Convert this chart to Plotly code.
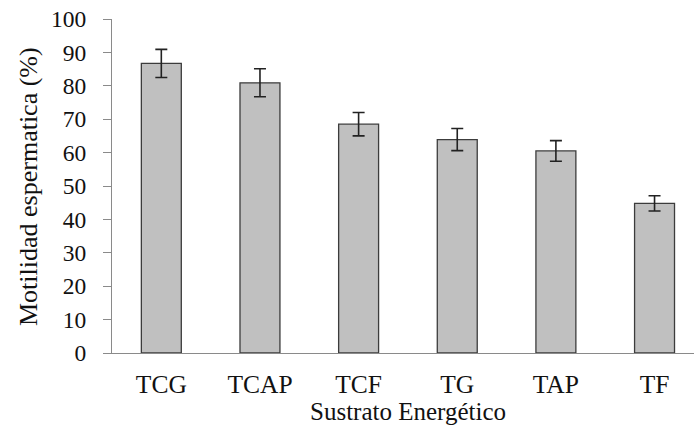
import plotly.graph_objects as go

# Sperm motility by energy substrate (mean ± SE)
substrates = ["TCG", "TCAP", "TCF", "TG", "TAP", "TF"]
motility = [86.7, 80.9, 68.5, 63.9, 60.5, 44.8]
error = [4.2, 4.2, 3.5, 3.3, 3.1, 2.3]
y_ticks = list(range(0, 101, 10))

W, H = 694, 426
ML, MR, MT, MB = 112, 0, 19, 73
plot_w = W - ML - MR

FONT = "Liberation Serif, Times New Roman, serif"

fig = go.Figure()
fig.add_trace(go.Bar(
    x=list(range(len(substrates))),
    y=motility,
    width=0.405,
    marker=dict(color="#c0c0c0", line=dict(color="#3c3c3c", width=1.3)),
    error_y=dict(type="data", array=error, visible=True,
                 color="#222222", thickness=1.6, width=6),
))

# x range chosen so category spacing stays even while the right edge is trimmed
x_lo, x_hi = -0.5, 5.4

fig.update_layout(
    width=W, height=H,
    margin=dict(l=ML, r=MR, t=MT, b=MB, pad=0),
    paper_bgcolor="white", plot_bgcolor="white",
    showlegend=False,
    font=dict(family=FONT, size=24, color="black"),
    xaxis=dict(
        range=[x_lo, x_hi],
        tickmode="array",
        tickvals=list(range(len(substrates))),
        ticktext=substrates,
        showline=True, linecolor="#8a8a8a", linewidth=1.3,
        ticks="", showgrid=False, zeroline=False,
        ticklabelstandoff=8,
        tickfont=dict(family=FONT, size=25.5, color="#111111"),
    ),
    yaxis=dict(
        range=[0, 100],
        tickmode="array",
        tickvals=y_ticks,
        showline=True, linecolor="#8a8a8a", linewidth=1.3,
        ticks="outside", ticklen=8, tickcolor="#8a8a8a", tickwidth=1.3,
        showgrid=False, zeroline=False,
        ticklabelstandoff=12,
        tickfont=dict(family=FONT, size=23.5, color="#111111"),
    ),
)

def px_to_paper_x(px):
    return (px - ML) / plot_w

def py_to_paper_y(py):
    return 1 - (py - MT) / (H - MT - MB)

# x-axis title centred on the full plotting width (which runs past the right edge)
fig.add_annotation(
    text="Sustrato Energético",
    x=px_to_paper_x(408), y=py_to_paper_y(411),
    xref="paper", yref="paper", showarrow=False,
    xanchor="center", yanchor="middle",
    font=dict(family=FONT, size=25, color="#111111"),
)
fig.add_annotation(
    text="Motilidad espermatica (%)",
    x=px_to_paper_x(28), y=py_to_paper_y(187),
    xref="paper", yref="paper", showarrow=False,
    xanchor="center", yanchor="middle", textangle=-90,
    font=dict(family=FONT, size=26, color="#111111"),
)

fig.write_html("out.html")
